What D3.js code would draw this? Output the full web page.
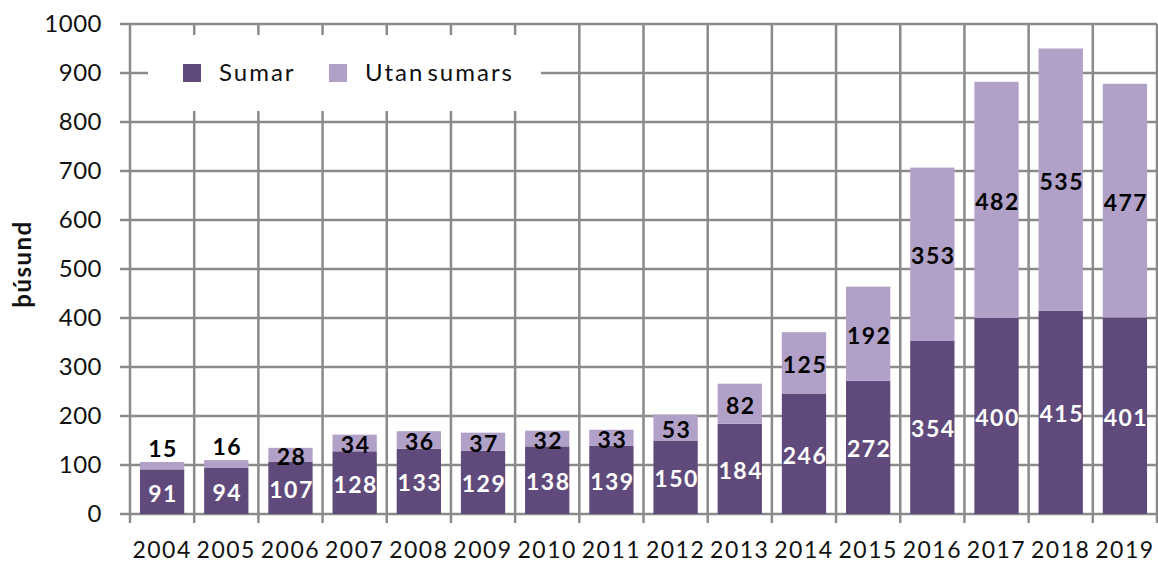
<!DOCTYPE html>
<html>
<head>
<meta charset="utf-8">
<script src="https://cdn.jsdelivr.net/npm/d3@7"></script>
<style>
  body { margin: 0; background: #fff; }
  text { font-family: Lato, "Noto Sans", sans-serif; }
</style>
</head>
<body>
<script>
var years = ['2004','2005','2006','2007','2008','2009','2010','2011','2012','2013','2014','2015','2016','2017','2018','2019'];
var sumar = [91, 94, 107, 128, 133, 129, 138, 139, 150, 184, 246, 272, 354, 400, 415, 401];
var utanSumars = [15, 16, 28, 34, 36, 37, 32, 33, 53, 82, 125, 192, 353, 482, 535, 477];
var yTicks = [0, 100, 200, 300, 400, 500, 600, 700, 800, 900, 1000];
var seriesNames = ['Sumar', 'Utan sumars'];
var colors = ['#604a7b', '#b1a0c7'];

var screen = { width: 1158, height: 563 };
var plot = { left: 130, right: 1157, top: 24, bottom: 514 };
var gridColor = '#8a8a8a';

var svg = d3.select('body')
            .append('svg')
            .attr('width', screen.width)
            .attr('height', screen.height);

var xScale = d3.scaleBand()
               .domain(years)
               .range([plot.left, plot.right])
               .paddingInner(0.31)
               .paddingOuter(0.155);

var yScale = d3.scaleLinear()
               .domain([0, 1000])
               .range([plot.bottom, plot.top]);

var grid = svg.append('g').classed('grid', true);

// horizontal lines, with a little tick past the axis
grid.selectAll('line.h')
    .data(yTicks)
    .enter()
    .append('line')
    .attr('x1', plot.left - 10)
    .attr('x2', plot.right)
    .attr('y1', function(d){ return yScale(d); })
    .attr('y2', function(d){ return yScale(d); })
    .attr('stroke', gridColor)
    .attr('stroke-width', 2.5);

// vertical lines at category boundaries
var bounds = d3.range(years.length + 1).map(function(i){ return plot.left + i * xScale.step(); });
grid.selectAll('line.v')
    .data(bounds)
    .enter()
    .append('line')
    .attr('x1', function(d){ return d; })
    .attr('x2', function(d){ return d; })
    .attr('y1', plot.top)
    .attr('y2', plot.bottom + 9)
    .attr('stroke', gridColor)
    .attr('stroke-width', 2.5);

// tick labels
svg.append('g')
   .selectAll('text')
   .data(yTicks)
   .enter()
   .append('text')
   .attr('x', 102)
   .attr('y', function(d){ return yScale(d); })
   .attr('dy', '0.35em')
   .attr('text-anchor', 'end')
   .attr('font-size', 24)
   .attr('letter-spacing', 0.5)
   .attr('fill', '#111')
   .text(function(d){ return d; });

svg.append('g')
   .selectAll('text')
   .data(years)
   .enter()
   .append('text')
   .attr('x', function(d){ return xScale(d) + xScale.bandwidth()/2; })
   .attr('y', 550)
   .attr('dy', '0.35em')
   .attr('text-anchor', 'middle')
   .attr('font-size', 23)
   .attr('letter-spacing', 1.5)
   .attr('fill', '#111')
   .text(function(d){ return d; });

svg.append('text')
   .attr('transform', 'translate(23,264) rotate(-90)')
   .attr('dy', '0.35em')
   .attr('text-anchor', 'middle')
   .attr('font-size', 24)
   .attr('font-weight', 'bold')
   .attr('letter-spacing', 1.5)
   .attr('fill', '#111')
   .text('þúsund');

// stacked bars
var table = years.map(function(y, i){ return { year: y, Sumar: sumar[i], 'Utan sumars': utanSumars[i] }; });
var stack = d3.stack().keys(seriesNames)(table);

var layers = svg.selectAll('g.layer')
                .data(stack)
                .enter()
                .append('g')
                .classed('layer', true)
                .attr('fill', function(d, i){ return colors[i]; });

layers.selectAll('rect')
      .data(function(d){ return d; })
      .enter()
      .append('rect')
      .attr('x', function(d){ return xScale(d.data.year); })
      .attr('y', function(d){ return yScale(d[1]); })
      .attr('width', xScale.bandwidth())
      .attr('height', function(d){ return yScale(d[0]) - yScale(d[1]); });

// value labels
layers.each(function(layer, li){
  d3.select(this).selectAll('text')
    .data(layer)
    .enter()
    .append('text')
    .attr('x', function(d){ return xScale(d.data.year) + xScale.bandwidth()/2 + 1; })
    .attr('y', function(d){
      var h = yScale(d[0]) - yScale(d[1]);
      if (h < 10) return yScale(d[1]) - 13; // too thin, put it above
      return (yScale(d[0]) + yScale(d[1])) / 2 + 2;
    })
    .attr('dy', '0.35em')
    .attr('text-anchor', 'middle')
    .attr('font-size', 23)
    .attr('font-weight', 'bold')
    .attr('letter-spacing', 1.5)
    .attr('fill', li == 0 ? '#fff' : '#000')
    .text(function(d){ return d[1] - d[0]; });
});

// legend
var legend = svg.append('g').classed('legend', true);
legend.append('rect')
      .attr('x', 148).attr('y', 35)
      .attr('width', 393).attr('height', 76)
      .attr('fill', '#fff');
var legendX = [183, 329];
seriesNames.forEach(function(name, i){
  legend.append('rect')
        .attr('x', legendX[i]).attr('y', 64)
        .attr('width', 18).attr('height', 18)
        .attr('fill', colors[i]);
  legend.append('text')
        .attr('x', legendX[i] + 36).attr('y', 73)
        .attr('dy', '0.35em')
        .attr('font-size', 24)
        .attr('letter-spacing', 2)
        .attr('word-spacing', -5)
        .attr('fill', '#111')
        .text(name);
});
</script>
</body>
</html>
